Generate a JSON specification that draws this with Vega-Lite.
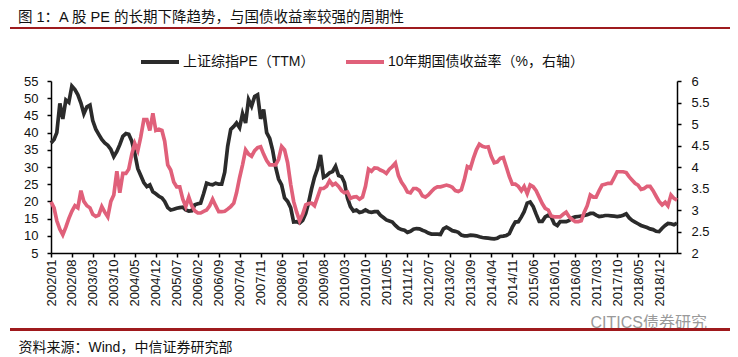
{
  "$schema": "https://vega.github.io/schema/vega-lite/v6.json",
  "width": 626,
  "height": 172,
  "autosize": {"type": "none"},
  "padding": {"left": 51, "top": 81, "right": 61, "bottom": 104},
  "background": "white",
  "title": {
    "text": "图 1：A 股 PE 的长期下降趋势，与国债收益率较强的周期性",
    "anchor": "start",
    "frame": "group",
    "dx": -33,
    "offset": 2,
    "fontSize": 14.5,
    "fontWeight": "normal",
    "color": "#111111",
    "font": "Liberation Sans, Noto Sans CJK SC"
  },
  "data": {
    "values": [
      {"d": "2002-01", "pe": 37, "y": 3.19}, {"d": "2002-02", "pe": 38, "y": 3.05}, {"d": "2002-03", "pe": 40, "y": 2.75}, {"d": "2002-04", "pe": 48.5, "y": 2.55}, {"d": "2002-05", "pe": 44, "y": 2.42}, {"d": "2002-06", "pe": 49.5, "y": 2.6}, {"d": "2002-07", "pe": 48.8, "y": 2.8}, {"d": "2002-08", "pe": 53.5, "y": 2.97}, {"d": "2002-09", "pe": 52.5, "y": 3.1}, {"d": "2002-10", "pe": 51, "y": 3.05}, {"d": "2002-11", "pe": 48.6, "y": 3.45}, {"d": "2002-12", "pe": 45.5, "y": 3.2},
      {"d": "2003-01", "pe": 47.5, "y": 3.1}, {"d": "2003-02", "pe": 48, "y": 3.05}, {"d": "2003-03", "pe": 43.5, "y": 2.9}, {"d": "2003-04", "pe": 41, "y": 2.85}, {"d": "2003-05", "pe": 39.5, "y": 2.88}, {"d": "2003-06", "pe": 38, "y": 3.08}, {"d": "2003-07", "pe": 37, "y": 2.95}, {"d": "2003-08", "pe": 36.3, "y": 2.84}, {"d": "2003-09", "pe": 35.1, "y": 3.2}, {"d": "2003-10", "pe": 33, "y": 3.35}, {"d": "2003-11", "pe": 34.5, "y": 3.9}, {"d": "2003-12", "pe": 36.5, "y": 3.4},
      {"d": "2004-01", "pe": 38.9, "y": 3.85}, {"d": "2004-02", "pe": 39.7, "y": 3.85}, {"d": "2004-03", "pe": 39.5, "y": 3.95}, {"d": "2004-04", "pe": 37.5, "y": 4.3}, {"d": "2004-05", "pe": 34, "y": 4.55}, {"d": "2004-06", "pe": 29.5, "y": 4.38}, {"d": "2004-07", "pe": 27.5, "y": 4.7}, {"d": "2004-08", "pe": 25.5, "y": 5.1}, {"d": "2004-09", "pe": 24.3, "y": 5.1}, {"d": "2004-10", "pe": 24.8, "y": 4.85}, {"d": "2004-11", "pe": 22.8, "y": 5.25}, {"d": "2004-12", "pe": 22.2, "y": 4.85},
      {"d": "2005-01", "pe": 21.5, "y": 4.88}, {"d": "2005-02", "pe": 21, "y": 4.85}, {"d": "2005-03", "pe": 20, "y": 4.6}, {"d": "2005-04", "pe": 18.2, "y": 4.05}, {"d": "2005-05", "pe": 17.5, "y": 3.93}, {"d": "2005-06", "pe": 17.7, "y": 3.65}, {"d": "2005-07", "pe": 18, "y": 3.54}, {"d": "2005-08", "pe": 18.2, "y": 3.54}, {"d": "2005-09", "pe": 18.3, "y": 3.25}, {"d": "2005-10", "pe": 17.5, "y": 3.08}, {"d": "2005-11", "pe": 17.2, "y": 3.3}, {"d": "2005-12", "pe": 17.3, "y": 3.1},
      {"d": "2006-01", "pe": 19, "y": 2.98}, {"d": "2006-02", "pe": 19.3, "y": 2.93}, {"d": "2006-03", "pe": 19.5, "y": 2.93}, {"d": "2006-04", "pe": 22.3, "y": 2.97}, {"d": "2006-05", "pe": 25.3, "y": 3.0}, {"d": "2006-06", "pe": 25, "y": 3.1}, {"d": "2006-07", "pe": 24.8, "y": 3.25}, {"d": "2006-08", "pe": 25.3, "y": 3.1}, {"d": "2006-09", "pe": 25, "y": 2.96}, {"d": "2006-10", "pe": 25, "y": 2.96}, {"d": "2006-11", "pe": 28.5, "y": 2.97}, {"d": "2006-12", "pe": 36, "y": 3.02},
      {"d": "2007-01", "pe": 40.9, "y": 3.08}, {"d": "2007-02", "pe": 41.8, "y": 3.16}, {"d": "2007-03", "pe": 42.8, "y": 3.4}, {"d": "2007-04", "pe": 41.4, "y": 3.75}, {"d": "2007-05", "pe": 45.5, "y": 4.05}, {"d": "2007-06", "pe": 42.8, "y": 4.4}, {"d": "2007-07", "pe": 49.6, "y": 4.3}, {"d": "2007-08", "pe": 47.7, "y": 4.25}, {"d": "2007-09", "pe": 50.5, "y": 4.38}, {"d": "2007-10", "pe": 51, "y": 4.45}, {"d": "2007-11", "pe": 44, "y": 4.47}, {"d": "2007-12", "pe": 46.7, "y": 4.3},
      {"d": "2008-01", "pe": 40, "y": 4.15}, {"d": "2008-02", "pe": 38.3, "y": 4.05}, {"d": "2008-03", "pe": 35, "y": 4.05}, {"d": "2008-04", "pe": 30, "y": 4.05}, {"d": "2008-05", "pe": 26.5, "y": 4.18}, {"d": "2008-06", "pe": 24.8, "y": 4.48}, {"d": "2008-07", "pe": 21, "y": 4.4}, {"d": "2008-08", "pe": 20, "y": 4.1}, {"d": "2008-09", "pe": 18.2, "y": 3.6}, {"d": "2008-10", "pe": 14, "y": 3.2}, {"d": "2008-11", "pe": 14.1, "y": 2.95}, {"d": "2008-12", "pe": 13.7, "y": 2.75},
      {"d": "2009-01", "pe": 14.5, "y": 2.9}, {"d": "2009-02", "pe": 16.5, "y": 3.12}, {"d": "2009-03", "pe": 19.5, "y": 3.15}, {"d": "2009-04", "pe": 23.6, "y": 3.16}, {"d": "2009-05", "pe": 27, "y": 3.1}, {"d": "2009-06", "pe": 29.5, "y": 3.3}, {"d": "2009-07", "pe": 33.5, "y": 3.5}, {"d": "2009-08", "pe": 27, "y": 3.5}, {"d": "2009-09", "pe": 27.5, "y": 3.55}, {"d": "2009-10", "pe": 28.3, "y": 3.68}, {"d": "2009-11", "pe": 28.7, "y": 3.58}, {"d": "2009-12", "pe": 30.2, "y": 3.62},
      {"d": "2010-01", "pe": 27.5, "y": 3.55}, {"d": "2010-02", "pe": 27.2, "y": 3.45}, {"d": "2010-03", "pe": 25.5, "y": 3.4}, {"d": "2010-04", "pe": 21, "y": 3.42}, {"d": "2010-05", "pe": 18.5, "y": 3.27}, {"d": "2010-06", "pe": 17.2, "y": 3.3}, {"d": "2010-07", "pe": 17.5, "y": 3.31}, {"d": "2010-08", "pe": 16.8, "y": 3.25}, {"d": "2010-09", "pe": 17, "y": 3.3}, {"d": "2010-10", "pe": 17.5, "y": 3.55}, {"d": "2010-11", "pe": 17, "y": 3.95}, {"d": "2010-12", "pe": 16.8, "y": 3.9},
      {"d": "2011-01", "pe": 17, "y": 3.98}, {"d": "2011-02", "pe": 17, "y": 3.97}, {"d": "2011-03", "pe": 16, "y": 3.93}, {"d": "2011-04", "pe": 15.3, "y": 3.9}, {"d": "2011-05", "pe": 14.6, "y": 3.85}, {"d": "2011-06", "pe": 14.3, "y": 3.95}, {"d": "2011-07", "pe": 14, "y": 4.01}, {"d": "2011-08", "pe": 13, "y": 4.09}, {"d": "2011-09", "pe": 12.2, "y": 3.8}, {"d": "2011-10", "pe": 11.8, "y": 3.65}, {"d": "2011-11", "pe": 11.6, "y": 3.55}, {"d": "2011-12", "pe": 11, "y": 3.42},
      {"d": "2012-01", "pe": 11.3, "y": 3.4}, {"d": "2012-02", "pe": 11.9, "y": 3.5}, {"d": "2012-03", "pe": 12.1, "y": 3.5}, {"d": "2012-04", "pe": 12, "y": 3.45}, {"d": "2012-05", "pe": 11.6, "y": 3.33}, {"d": "2012-06", "pe": 11.3, "y": 3.3}, {"d": "2012-07", "pe": 10.8, "y": 3.35}, {"d": "2012-08", "pe": 10.5, "y": 3.43}, {"d": "2012-09", "pe": 10.5, "y": 3.5}, {"d": "2012-10", "pe": 10.5, "y": 3.54}, {"d": "2012-11", "pe": 10.4, "y": 3.54}, {"d": "2012-12", "pe": 12, "y": 3.56},
      {"d": "2013-01", "pe": 12.5, "y": 3.58}, {"d": "2013-02", "pe": 12, "y": 3.56}, {"d": "2013-03", "pe": 11.5, "y": 3.53}, {"d": "2013-04", "pe": 11.3, "y": 3.45}, {"d": "2013-05", "pe": 11, "y": 3.43}, {"d": "2013-06", "pe": 10.2, "y": 3.47}, {"d": "2013-07", "pe": 10, "y": 3.7}, {"d": "2013-08", "pe": 10, "y": 4.01}, {"d": "2013-09", "pe": 10.2, "y": 3.97}, {"d": "2013-10", "pe": 10.1, "y": 4.2}, {"d": "2013-11", "pe": 10, "y": 4.4}, {"d": "2013-12", "pe": 9.7, "y": 4.53},
      {"d": "2014-01", "pe": 9.5, "y": 4.48}, {"d": "2014-02", "pe": 9.4, "y": 4.46}, {"d": "2014-03", "pe": 9.3, "y": 4.47}, {"d": "2014-04", "pe": 9.2, "y": 4.25}, {"d": "2014-05", "pe": 9.1, "y": 4.1}, {"d": "2014-06", "pe": 9.3, "y": 4.12}, {"d": "2014-07", "pe": 9.8, "y": 4.2}, {"d": "2014-08", "pe": 9.9, "y": 4.22}, {"d": "2014-09", "pe": 10.1, "y": 4.0}, {"d": "2014-10", "pe": 10.6, "y": 3.78}, {"d": "2014-11", "pe": 12.5, "y": 3.6}, {"d": "2014-12", "pe": 14, "y": 3.6},
      {"d": "2015-01", "pe": 14.1, "y": 3.55}, {"d": "2015-02", "pe": 15.5, "y": 3.45}, {"d": "2015-03", "pe": 17, "y": 3.55}, {"d": "2015-04", "pe": 19.5, "y": 3.38}, {"d": "2015-05", "pe": 19.8, "y": 3.58}, {"d": "2015-06", "pe": 18.5, "y": 3.54}, {"d": "2015-07", "pe": 16.3, "y": 3.45}, {"d": "2015-08", "pe": 14.2, "y": 3.3}, {"d": "2015-09", "pe": 14.2, "y": 3.15}, {"d": "2015-10", "pe": 15.5, "y": 3.04}, {"d": "2015-11", "pe": 16, "y": 3.0}, {"d": "2015-12", "pe": 15.5, "y": 2.86},
      {"d": "2016-01", "pe": 13.5, "y": 2.84}, {"d": "2016-02", "pe": 13, "y": 2.84}, {"d": "2016-03", "pe": 14.1, "y": 2.84}, {"d": "2016-04", "pe": 14.1, "y": 2.9}, {"d": "2016-05", "pe": 14.1, "y": 2.95}, {"d": "2016-06", "pe": 14.5, "y": 2.84}, {"d": "2016-07", "pe": 15.2, "y": 2.78}, {"d": "2016-08", "pe": 15.5, "y": 2.73}, {"d": "2016-09", "pe": 15.6, "y": 2.73}, {"d": "2016-10", "pe": 15.7, "y": 2.75}, {"d": "2016-11", "pe": 15.9, "y": 2.95}, {"d": "2016-12", "pe": 16.1, "y": 3.1},
      {"d": "2017-01", "pe": 16.5, "y": 3.35}, {"d": "2017-02", "pe": 16.5, "y": 3.3}, {"d": "2017-03", "pe": 16, "y": 3.3}, {"d": "2017-04", "pe": 15.6, "y": 3.45}, {"d": "2017-05", "pe": 15.7, "y": 3.58}, {"d": "2017-06", "pe": 15.9, "y": 3.6}, {"d": "2017-07", "pe": 15.9, "y": 3.62}, {"d": "2017-08", "pe": 15.8, "y": 3.62}, {"d": "2017-09", "pe": 15.7, "y": 3.75}, {"d": "2017-10", "pe": 15.6, "y": 3.89}, {"d": "2017-11", "pe": 15.7, "y": 3.89}, {"d": "2017-12", "pe": 16, "y": 3.89},
      {"d": "2018-01", "pe": 16.4, "y": 3.87}, {"d": "2018-02", "pe": 15.2, "y": 3.77}, {"d": "2018-03", "pe": 14.5, "y": 3.7}, {"d": "2018-04", "pe": 14, "y": 3.62}, {"d": "2018-05", "pe": 13.5, "y": 3.58}, {"d": "2018-06", "pe": 13, "y": 3.48}, {"d": "2018-07", "pe": 12.7, "y": 3.5}, {"d": "2018-08", "pe": 12.4, "y": 3.55}, {"d": "2018-09", "pe": 12, "y": 3.55}, {"d": "2018-10", "pe": 11.8, "y": 3.45}, {"d": "2018-11", "pe": 11.3, "y": 3.32}, {"d": "2018-12", "pe": 11.2, "y": 3.2},
      {"d": "2019-01", "pe": 12.2, "y": 3.12}, {"d": "2019-02", "pe": 13, "y": 3.18}, {"d": "2019-03", "pe": 13.6, "y": 3.1}, {"d": "2019-04", "pe": 13.5, "y": 3.35}, {"d": "2019-05", "pe": 13.2, "y": 3.27}, {"d": "2019-06", "pe": 13.7, "y": 3.23}
    ]
  },
  "layer": [
    {
      "mark": {"type": "rule", "color": "#9e1b1e", "strokeWidth": 2, "clip": false},
      "encoding": {
        "x": {"datum": {"year": 2000, "month": 11, "date": 15, "utc": true}, "type": "temporal", "scale": {"type": "utc", "domain": [{"year": 2002, "month": 1, "date": 1, "utc": true}, {"year": 2019, "month": 6, "date": 1, "utc": true}]}, "axis": null},
        "x2": {"datum": {"year": 2020, "month": 11, "date": 20, "utc": true}},
        "y": {"datum": 70.4, "type": "quantitative", "scale": {"domain": [5, 55]}, "axis": null}
      }
    },
    {
      "mark": {"type": "rule", "color": "#9e1b1e", "strokeWidth": 2, "clip": false},
      "encoding": {
        "x": {"datum": {"year": 2000, "month": 11, "date": 15, "utc": true}, "type": "temporal", "scale": {"type": "utc", "domain": [{"year": 2002, "month": 1, "date": 1, "utc": true}, {"year": 2019, "month": 6, "date": 1, "utc": true}]}, "axis": null},
        "x2": {"datum": {"year": 2020, "month": 11, "date": 20, "utc": true}},
        "y": {"datum": -17.2, "type": "quantitative", "scale": {"domain": [5, 55]}, "axis": null}
      }
    },
    {
      "mark": {"type": "line", "strokeWidth": 3.7, "clip": false},
      "encoding": {
        "x": {
          "field": "d", "type": "temporal",
          "scale": {"type": "utc", "domain": [{"year": 2002, "month": 1, "date": 1, "utc": true}, {"year": 2019, "month": 6, "date": 1, "utc": true}]},
          "axis": {
            "values": [
              {"year": 2002, "month": 1, "date": 1, "utc": true}, {"year": 2002, "month": 8, "date": 1, "utc": true}, {"year": 2003, "month": 3, "date": 1, "utc": true}, {"year": 2003, "month": 10, "date": 1, "utc": true}, {"year": 2004, "month": 5, "date": 1, "utc": true}, {"year": 2004, "month": 12, "date": 1, "utc": true}, {"year": 2005, "month": 7, "date": 1, "utc": true}, {"year": 2006, "month": 2, "date": 1, "utc": true}, {"year": 2006, "month": 9, "date": 1, "utc": true}, {"year": 2007, "month": 4, "date": 1, "utc": true}, {"year": 2007, "month": 11, "date": 1, "utc": true}, {"year": 2008, "month": 6, "date": 1, "utc": true}, {"year": 2009, "month": 1, "date": 1, "utc": true}, {"year": 2009, "month": 8, "date": 1, "utc": true}, {"year": 2010, "month": 3, "date": 1, "utc": true}, {"year": 2010, "month": 10, "date": 1, "utc": true}, {"year": 2011, "month": 5, "date": 1, "utc": true}, {"year": 2011, "month": 12, "date": 1, "utc": true}, {"year": 2012, "month": 7, "date": 1, "utc": true}, {"year": 2013, "month": 2, "date": 1, "utc": true}, {"year": 2013, "month": 9, "date": 1, "utc": true}, {"year": 2014, "month": 4, "date": 1, "utc": true}, {"year": 2014, "month": 11, "date": 1, "utc": true}, {"year": 2015, "month": 6, "date": 1, "utc": true}, {"year": 2016, "month": 1, "date": 1, "utc": true}, {"year": 2016, "month": 8, "date": 1, "utc": true}, {"year": 2017, "month": 3, "date": 1, "utc": true}, {"year": 2017, "month": 10, "date": 1, "utc": true}, {"year": 2018, "month": 5, "date": 1, "utc": true}, {"year": 2018, "month": 12, "date": 1, "utc": true}
            ],
            "labelExpr": "utcFormat(datum.value, '%Y/%m')",
            "labelAngle": -90,
            "labelFontSize": 13,
            "labelPadding": 2,
            "labelColor": "#111111",
            "labelFont": "Liberation Sans",
            "tickSize": 4,
            "tickColor": "#000000",
            "tickWidth": 1.5,
            "domainColor": "#000000",
            "domainWidth": 1.5,
            "grid": false,
            "labelOverlap": false,
            "labelFlush": false,
            "title": "资料来源：Wind，中信证券研究部",
            "titleX": -33,
            "titleY": 94,
            "titleAlign": "left",
            "titleBaseline": "middle",
            "titleAngle": 0,
            "titleFontSize": 14,
            "titleFontWeight": "normal",
            "titleColor": "#111111",
            "titleFont": "Liberation Sans, Noto Sans CJK SC"
          }
        },
        "y": {
          "field": "pe", "type": "quantitative",
          "scale": {"domain": [5, 55], "nice": false, "zero": false},
          "axis": {
            "orient": "left",
            "values": [5, 10, 15, 20, 25, 30, 35, 40, 45, 50, 55],
            "grid": false,
            "title": null,
            "labelFontSize": 13,
            "labelColor": "#111111",
            "labelFont": "Liberation Sans",
            "labelPadding": 9,
            "tickSize": 4,
            "tickColor": "#000000",
            "tickWidth": 1.5,
            "domainColor": "#000000",
            "domainWidth": 1.5
          }
        },
        "color": {
          "datum": "上证综指PE（TTM）",
          "scale": {"domain": ["上证综指PE（TTM）", "10年期国债收益率（%，右轴）"], "range": ["#2b2b2b", "#e0607a"]},
          "legend": {
            "orient": "none",
            "legendX": 88,
            "legendY": -40,
            "direction": "horizontal",
            "title": null,
            "symbolType": "stroke",
            "symbolSize": 1444,
            "symbolStrokeWidth": 4,
            "labelFontSize": 14,
            "labelFont": "Liberation Sans, Noto Sans CJK SC",
            "labelColor": "#111111",
            "labelOffset": 2,
            "columnPadding": 23,
            "labelLimit": 400
          }
        }
      }
    },
    {
      "mark": {"type": "line", "strokeWidth": 3.7, "clip": false},
      "encoding": {
        "x": {"field": "d", "type": "temporal", "scale": {"type": "utc", "domain": [{"year": 2002, "month": 1, "date": 1, "utc": true}, {"year": 2019, "month": 6, "date": 1, "utc": true}]}, "axis": null},
        "y": {
          "field": "y", "type": "quantitative",
          "scale": {"domain": [2, 6], "nice": false, "zero": false},
          "axis": {
            "orient": "right",
            "values": [2, 2.5, 3, 3.5, 4, 4.5, 5, 5.5, 6],
            "format": "~g",
            "grid": false,
            "labelFontSize": 13,
            "labelColor": "#111111",
            "labelFont": "Liberation Sans",
            "labelPadding": 10,
            "tickSize": 4,
            "tickColor": "#000000",
            "tickWidth": 1.5,
            "domainColor": "#000000",
            "domainWidth": 1.5,
            "title": "CITICS债券研究",
            "titleX": -87,
            "titleY": 241,
            "titleAngle": 0,
            "titleAlign": "left",
            "titleBaseline": "middle",
            "titleFontSize": 16,
            "titleFontWeight": "normal",
            "titleColor": "#9a9a9a",
            "titleFont": "Liberation Sans, Noto Sans CJK SC"
          }
        },
        "color": {"datum": "10年期国债收益率（%，右轴）"}
      }
    }
  ],
  "resolve": {"scale": {"y": "independent"}, "axis": {"x": "independent", "y": "independent"}},
  "config": {
    "view": {"stroke": null},
    "font": "Liberation Sans, Noto Sans CJK SC"
  }
}
